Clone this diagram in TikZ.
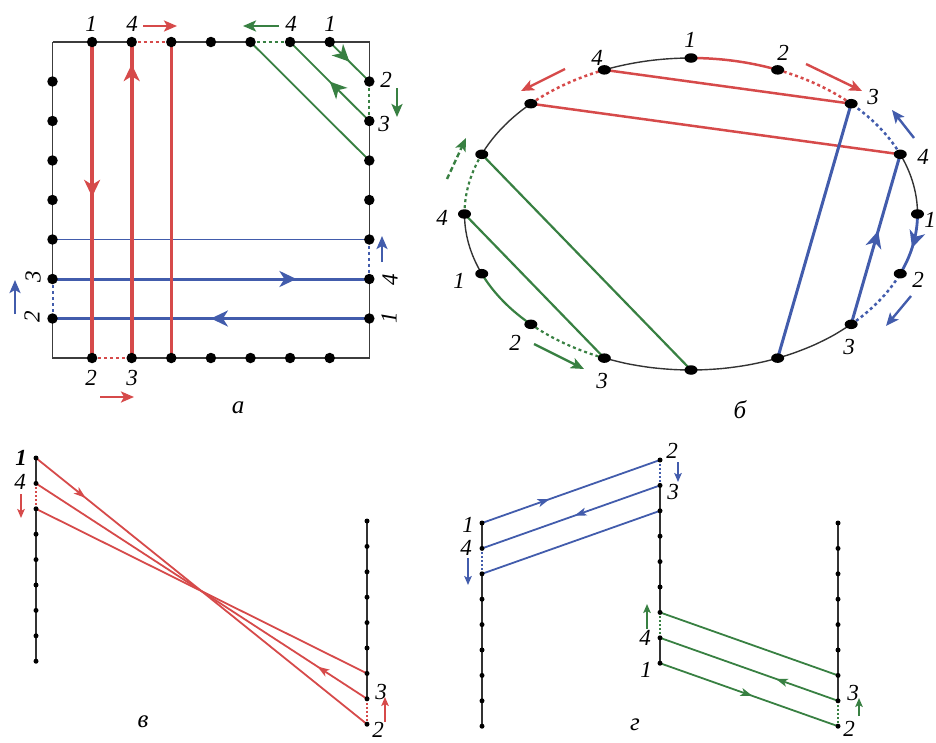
\documentclass[tikz,border=0pt]{standalone}
\usepackage{fontspec}
\setmainfont{Liberation Serif}
\usetikzlibrary{arrows.meta,decorations.markings,shapes.geometric}
\pgfdeclarelayer{bg}
\pgfsetlayers{bg,main}
\definecolor{cred}{RGB}{214,74,74}
\definecolor{cblue}{RGB}{66,92,172}
\definecolor{cgreen}{RGB}{56,128,66}
\definecolor{cframe}{RGB}{60,60,60}
\tikzset{
  dotA/.style={circle,fill=black,inner sep=0pt,minimum size=10.5pt},
  dotB/.style={ellipse,fill=black,inner sep=0pt,minimum width=13pt,minimum height=9.5pt},
  dotC/.style={circle,fill=black,inner sep=0pt,minimum size=5pt},
  lab/.style={font=\fontsize{23}{24}\selectfont\itshape,inner sep=0pt},
  plab/.style={font=\fontsize{25}{26}\selectfont\itshape,inner sep=0pt},
  dotl/.style={dash pattern=on 3pt off 3pt},
  ma/.style={postaction={decorate,decoration={markings,mark=at position #1 with {\arrow{Stealth[length=17pt,width=16pt,inset=5pt]}}}}},
  mar/.style={postaction={decorate,decoration={markings,mark=at position #1 with {\arrowreversed{Stealth[length=17pt,width=16pt,inset=5pt]}}}}},
  mas/.style={postaction={decorate,decoration={markings,mark=at position #1 with {\arrow{Stealth[length=12pt,width=8pt,inset=3pt]}}}}},
  la/.style={-{Stealth[length=13pt,width=11pt,inset=3pt]},line width=2.4pt},
  las/.style={-{Stealth[length=9pt,width=7.5pt,inset=2pt]},line width=2pt},
  fr/.style={draw=cframe,line width=1.6pt},
  vl/.style={draw=black!80,line width=1.4pt}
}
\newcommand\earc[3]{\draw[#3] plot[domain=#1:#2,samples=12,smooth] ({691+226.5*cos(\x)},{214-156*sin(\x)});}
\begin{document}
\begin{tikzpicture}[x=1pt,y=-1pt]
\useasboundingbox (0,0) rectangle (936,742);

% ================= panel a =================
\coordinate (aTL) at (52.5,42);
\coordinate (aTR) at (369.3,42);
\coordinate (aBL) at (52.5,358);
\coordinate (aBR) at (369.3,358);
\foreach \i in {1,...,7} {
  \node[dotA] (at\i) at ({52.5+39.6*\i},42) {};
  \node[dotA] (ab\i) at ({52.5+39.6*\i},358) {};
  \node[dotA] (al\i) at (52.5,{42+39.5*\i}) {};
  \node[dotA] (ar\i) at (369.3,{42+39.5*\i}) {};
}
\begin{pgfonlayer}{bg}
  \draw[fr] (aTL) -- (at2.center) (at3.center) -- (at5.center) (at6.center) -- (aTR) -- (ar1.center)
            (ar2.center) -- (ar5.center) (ar6.center) -- (aBR) -- (ab2.center)
            (ab1.center) -- (aBL) -- (al7.center) (al6.center) -- (aTL);
  % blue
  \draw[cblue,line width=1.6pt] (al5.center) -- (ar5.center);
  \draw[cblue,line width=3pt,ma=0.77] (al6.center) -- (ar6.center);
  \draw[cblue,line width=3pt,ma=0.5] (ar7.center) -- (al7.center);
  \draw[cblue,line width=2pt,dotl] (ar5.center) -- (ar6.center);
  \draw[cblue,line width=2pt,dotl] (al6.center) -- (al7.center);
  % red
  \draw[cred,line width=4pt,ma=0.49] (at1.center) -- (ab1.center);
  \draw[cred,line width=4pt,ma=0.93] (ab2.center) -- (at2.center);
  \draw[cred,line width=3pt] (at3.center) -- (ab3.center);
  \draw[cred,line width=2.5pt,dotl] (at2.center) -- (at3.center);
  \draw[cred,line width=2.5pt,dotl] (ab1.center) -- (ab2.center);
  % green
  \draw[cgreen,line width=1.8pt] (at5.center) -- (ar3.center);
  \draw[cgreen,line width=1.8pt,ma=0.5] (ar2.center) -- (at6.center);
  \draw[cgreen,line width=1.8pt,ma=0.5] (at7.center) -- (ar1.center);
  \draw[cgreen,line width=2pt,dotl] (at5.center) -- (at6.center);
  \draw[cgreen,line width=2pt,dotl] (ar1.center) -- (ar2.center);
\end{pgfonlayer}
\node[lab] (lat1) at (91,24) {1};
\node[lab] (lat2) at (132,24) {4};
\node[lab] (lat6) at (291,24) {4};
\node[lab] (lat7) at (330,24) {1};
\node[lab] (lar1) at (386,80) {2};
\node[lab] (lar2) at (384,124) {3};
\node[lab,rotate=90] (lar6) at (390,280) {4};
\node[lab,rotate=90] (lar7) at (389,318) {1};
\node[lab,rotate=90] (lal6) at (33,277) {3};
\node[lab,rotate=90] (lal7) at (32,317) {2};
\node[lab] (lab1) at (91,378) {2};
\node[lab] (lab2) at (132,378) {3};
\draw[la,cred] (143,26) -- (177,26);
\draw[la,cgreen] (279,26) -- (243,26);
\draw[la,cgreen] (397,88) -- (397,117);
\draw[la,cblue] (382,262) -- (382,236);
\draw[la,cblue] (15,314) -- (15,280);
\draw[la,cred] (100,397) -- (134,397);
\node[plab] (pa) at (238,408) {а};

% ================= panel b =================
\foreach \k in {0,...,15}
  \node[dotB] (e\k) at ({691+226.5*cos(22.5*\k)},{214-156*sin(22.5*\k)}) {};
\begin{pgfonlayer}{bg}
  \earc{0}{22.5}{black!80,line width=1.4pt}
  \earc{90}{112.5}{black!80,line width=1.4pt}
  \earc{135}{157.5}{black!80,line width=1.4pt}
  \earc{180}{202.5}{black!80,line width=1.4pt}
  \earc{247.5}{315}{black!80,line width=1.4pt}
  \earc{67.5}{90}{cred,line width=2.5pt}
  \earc{45}{67.5}{cred,line width=2.5pt,dotl}
  \earc{112.5}{135}{cred,line width=2.5pt,dotl}
  \earc{337.5}{360}{cblue,line width=2.8pt,mar=0.45}
  \earc{315}{337.5}{cblue,line width=2.5pt,dotl}
  \earc{22.5}{45}{cblue,line width=2.5pt,dotl}
  \earc{202.5}{225}{cgreen,line width=2.2pt}
  \earc{225}{247.5}{cgreen,line width=2.2pt,dotl}
  \earc{157.5}{180}{cgreen,line width=2.2pt,dotl}
  \draw[cred,line width=2.5pt] (e2.center) -- (e5.center);
  \draw[cred,line width=2.5pt] (e6.center) -- (e1.center);
  \draw[cblue,line width=3pt,ma=0.55] (e14.center) -- (e1.center);
  \draw[cblue,line width=3pt] (e2.center) -- (e13.center);
  \draw[cgreen,line width=2.2pt] (e11.center) -- (e8.center);
  \draw[cgreen,line width=2.2pt] (e7.center) -- (e12.center);
\end{pgfonlayer}
\node[lab] (le4) at (690,40) {1};
\node[lab] (le3) at (783,53) {2};
\node[lab] (le5) at (597,58) {4};
\node[lab] (le2) at (873,97) {3};
\node[lab] (le1) at (923,157) {4};
\node[lab] (le0) at (930,220) {1};
\node[lab] (le15) at (918,280) {2};
\node[lab] (le14) at (849,347) {3};
\node[lab] (le11) at (602,381) {3};
\node[lab] (le10) at (515,343) {2};
\node[lab] (le9) at (459,281) {1};
\node[lab] (le8) at (442,218) {4};
\draw[la,cred] (806,64) -- (862,91);
\draw[la,cred] (565,69) -- (521,91);
\draw[la,cblue] (914,138) -- (892,110);
\draw[la,cblue] (911,296) -- (886,326);
\draw[la,cgreen] (534,344) -- (584,369);
\draw[la,cgreen,dash pattern=on 5pt off 3pt] (447,179) -- (466,138);
\node[plab] (pb) at (740,410) {б};

% ================= panel v =================
\foreach \i in {0,...,8} {
  \node[dotC] (vl\i) at (36,{458+25.4*\i}) {};
  \node[dotC] (vr\i) at (367,{521+25.4*\i}) {};
}
\begin{pgfonlayer}{bg}
  \draw[vl] (vl0.center) -- (vl1.center) (vl2.center) -- (vl8.center);
  \draw[vl] (vr0.center) -- (vr7.center);
  \draw[cred,line width=1.8pt,mas=0.15] (vl0.center) -- (vr8.center);
  \draw[cred,line width=1.8pt,mas=0.15] (vr7.center) -- (vl1.center);
  \draw[cred,line width=1.8pt] (vl2.center) -- (vr6.center);
  \draw[cred,line width=1.4pt,dash pattern=on 2pt off 2pt] (vl1.center) -- (vl2.center);
  \draw[cred,line width=1.4pt,dash pattern=on 2pt off 2pt] (vr7.center) -- (vr8.center);
\end{pgfonlayer}
\node[lab] (lvl0) at (21,458) {\bfseries 1};
\node[lab] (lvl1) at (20,482) {4};
\draw[las,cred] (21,494) -- (21,518);
\node[lab] (lvr7) at (381,692) {3};
\node[lab] (lvr8) at (378,730) {2};
\draw[las,cred] (385,722) -- (385,697);
\node[plab] (pv) at (143,722) {в};

% ================= panel g =================
\foreach \i in {0,...,8} {
  \node[dotC] (gl\i) at (482,{523+25.4*\i}) {};
  \node[dotC] (gm\i) at (660,{460+25.4*\i}) {};
  \node[dotC] (gr\i) at (838,{523+25.4*\i}) {};
}
\begin{pgfonlayer}{bg}
  \draw[vl] (gl0.center) -- (gl1.center) (gl2.center) -- (gl8.center);
  \draw[vl] (gm1.center) -- (gm6.center) (gm7.center) -- (gm8.center);
  \draw[vl] (gr0.center) -- (gr7.center);
  \draw[cblue,line width=1.8pt,mas=0.38] (gl0.center) -- (gm0.center);
  \draw[cblue,line width=1.8pt,mas=0.48] (gm1.center) -- (gl1.center);
  \draw[cblue,line width=1.8pt] (gm2.center) -- (gl2.center);
  \draw[cblue,line width=1.4pt,dash pattern=on 2pt off 2pt] (gm0.center) -- (gm1.center);
  \draw[cblue,line width=1.4pt,dash pattern=on 2pt off 2pt] (gl1.center) -- (gl2.center);
  \draw[cgreen,line width=1.8pt,mas=0.52] (gm8.center) -- (gr8.center);
  \draw[cgreen,line width=1.8pt,mas=0.35] (gr7.center) -- (gm7.center);
  \draw[cgreen,line width=1.8pt] (gr6.center) -- (gm6.center);
  \draw[cgreen,line width=1.4pt,dash pattern=on 2pt off 2pt] (gm6.center) -- (gm7.center);
  \draw[cgreen,line width=1.4pt,dash pattern=on 2pt off 2pt] (gr7.center) -- (gr8.center);
\end{pgfonlayer}
\node[lab] (lgm0) at (672,451) {2};
\node[lab] (lgm1) at (673,492) {3};
\draw[las,cblue] (678,462) -- (678,482);
\node[lab] (lgl0) at (468,525) {1};
\node[lab] (lgl1) at (466,548) {4};
\draw[las,cblue] (468,558) -- (468,585);
\node[lab] (lgm7) at (645,638) {4};
\node[lab] (lgm8) at (646,670) {1};
\draw[las,cgreen] (647,629) -- (647,604);
\node[lab] (lgr7) at (853,693) {3};
\node[lab] (lgr8) at (849,729) {2};
\draw[las,cgreen] (859,716) -- (859,698);
\node[plab] (pg) at (635,725) {г};
\end{tikzpicture}
\end{document}
